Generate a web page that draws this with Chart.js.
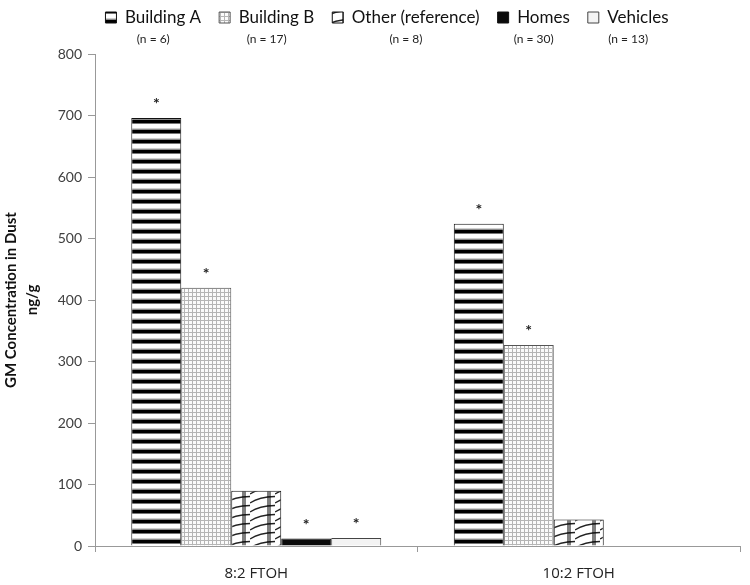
<!DOCTYPE html>
<html lang="en">

<head>
    <meta charset="UTF-8">
    <title>GM Concentration in Dust</title>
    <script src="https://cdn.jsdelivr.net/npm/chart.js@4.4.0/dist/chart.umd.min.js"></script>
    <style>
        body { margin: 0; background: #fff; }
        #wrap { width: 750px; height: 585px; }
    </style>
</head>

<body>
    <div id="wrap"><canvas id="myChart"></canvas></div>

    <script>
        'use strict';

        // data
        const categories = ['8:2 FTOH', '10:2 FTOH'];
        const seriesNames = ['Building A', 'Building B', 'Other (reference)', 'Homes', 'Vehicles'];
        const sampleSizes = ['(n = 6)', '(n = 17)', '(n = 8)', '(n = 30)', '(n = 13)'];
        const buildingA = [696, 524];
        const buildingB = [420, 327];
        const otherRef = [90, 43];
        const homes = [12, null];
        const vehicles = [13, null];
        // which bars carry a "*"
        const starred = [[true, true], [true, true], [false, false], [true, false], [true, false]];
        const yMin = 0;
        const yMax = 800;
        const yStep = 100;

        const FONT = 'Lato, "Open Sans", sans-serif';

        function makePattern(w, h, draw) {
            const c = document.createElement('canvas');
            c.width = w;
            c.height = h;
            const g = c.getContext('2d');
            g.fillStyle = '#fff';
            g.fillRect(0, 0, w, h);
            draw(g);
            return g.createPattern(c, 'repeat');
        }

        // horizontal black/white stripes
        const stripes = makePattern(10, 10, g => {
            g.fillStyle = '#000';
            g.fillRect(0, 0, 10, 3);
            g.fillStyle = '#777';
            g.fillRect(0, 3, 10, 1);
            g.fillStyle = '#d0d0d0';
            g.fillRect(0, 8, 10, 1);
            g.fillStyle = '#8a8a8a';
            g.fillRect(0, 9, 10, 1);
        });

        // fine gray grid
        const fineGrid = makePattern(4, 4, g => {
            g.fillStyle = '#fbfbfb';
            g.fillRect(0, 0, 4, 4);
            g.fillStyle = '#b5b5b5';
            g.fillRect(0, 0, 4, 1);
            g.fillRect(0, 0, 1, 4);
        });

        // wavy rising lines with a dark band
        const waves = makePattern(25, 9, g => {
            g.strokeStyle = '#222';
            g.lineWidth = 1.3;
            g.beginPath();
            g.moveTo(0, 8);
            g.quadraticCurveTo(9, 2, 25, 1.5);
            g.stroke();
            g.fillStyle = 'rgba(0,0,0,0.5)';
            g.fillRect(17, 0, 4, 9);
        });

        const fills = [stripes, fineGrid, waves, '#0a0a0a', '#f3f3f3'];
        const borders = ['#111', '#555', '#111', '#111', '#444'];
        const values = [buildingA, buildingB, otherRef, homes, vehicles];

        // extra room under the legend for the "(n = ..)" line,
        // and nudge the legend a bit to the right like the original
        const legendSpace = {
            id: 'legendSpace',
            beforeInit(chart) {
                const fit = chart.legend.fit;
                chart.legend.fit = function () {
                    fit.call(this);
                    this.height += 18;
                };
            },
            afterLayout(chart) {
                chart.legend.left += 17;
                chart.legend.right += 17;
            }
        };

        const extras = {
            id: 'extras',
            afterDraw(chart) {
                const ctx = chart.ctx;
                ctx.save();
                ctx.fillStyle = '#222';
                ctx.textAlign = 'center';
                ctx.textBaseline = 'middle';
                ctx.font = '12px ' + FONT;
                chart.legend.legendHitBoxes.forEach((box, i) => {
                    ctx.fillText(sampleSizes[i], box.left + box.width / 2, box.top + box.height + 13);
                });
                ctx.font = 'bold 16px ' + FONT;
                chart.data.datasets.forEach((ds, i) => {
                    chart.getDatasetMeta(i).data.forEach((bar, j) => {
                        if (ds.data[j] == null || !starred[i][j]) return;
                        ctx.fillText('*', bar.x, bar.y - 14);
                    });
                });
                ctx.restore();
            }
        };

        const ctx = document.getElementById('myChart').getContext('2d');
        const myChart = new Chart(ctx, {
            type: 'bar',
            data: {
                labels: categories,
                datasets: seriesNames.map((name, i) => ({
                    label: name,
                    data: values[i],
                    backgroundColor: fills[i],
                    borderColor: borders[i],
                    borderWidth: 1,
                    categoryPercentage: 0.775,
                    barPercentage: 1
                }))
            },
            options: {
                animation: false,
                maintainAspectRatio: false,
                layout: { padding: { top: -9, right: 10, bottom: 0, left: 0 } },
                plugins: {
                    tooltip: { enabled: false },
                    legend: {
                        position: 'top',
                        align: 'center',
                        labels: {
                            boxWidth: 11,
                            boxHeight: 11,
                            padding: 18,
                            color: '#111',
                            font: { family: FONT, size: 17 }
                        }
                    }
                },
                scales: {
                    x: {
                        afterFit(scale) { scale.height = 39; },
                        border: { color: '#999' },
                        grid: { drawOnChartArea: false, tickLength: 6, color: '#999' },
                        ticks: { color: '#222', padding: 13, font: { family: '"Open Sans", sans-serif', size: 15 } }
                    },
                    y: {
                        min: yMin,
                        max: yMax,
                        afterFit(scale) { scale.width = 95; },
                        border: { color: '#999' },
                        grid: { drawOnChartArea: false, tickLength: 7, color: '#999' },
                        ticks: { stepSize: yStep, color: '#404040', padding: 6, font: { family: FONT, size: 14 } },
                        title: {
                            display: true,
                            text: ['GM Concentration in Dust', 'ng/g'],
                            color: '#111',
                            font: { family: FONT, size: 15, weight: 'bold', lineHeight: 1.45 },
                            padding: { top: 0, bottom: 2 }
                        }
                    }
                }
            },
            plugins: [legendSpace, extras]
        });
    </script>
</body>

</html>
